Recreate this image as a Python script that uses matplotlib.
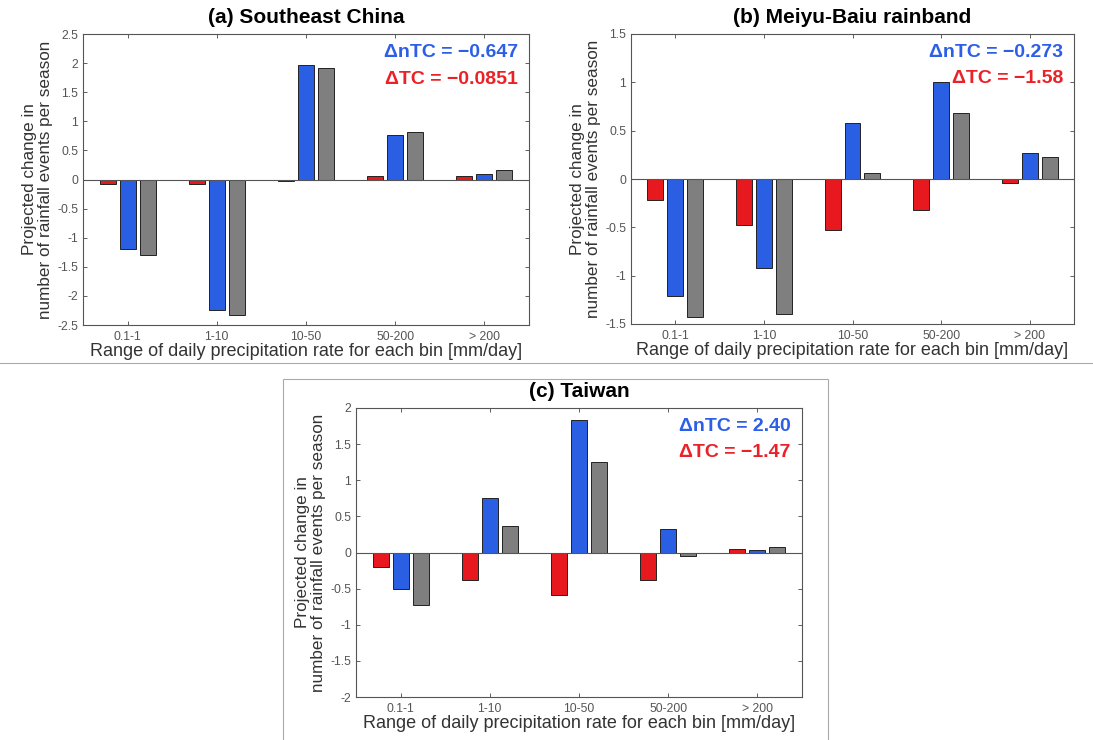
import numpy as np
import matplotlib
matplotlib.use("Agg")
import matplotlib.pyplot as plt
from matplotlib.patches import Rectangle

plt.rcParams['font.family'] = ['Liberation Sans', 'DejaVu Sans']
plt.rcParams['axes.unicode_minus'] = False

bins = ['0.1-1', '1-10', '10-50', '50-200', '> 200']

# (a) Southeast China
sec_tc = [-0.07, -0.07, -0.03, 0.06, 0.06]
sec_ntc = [-1.20, -2.25, 1.96, 0.77, 0.10]
sec_all = [-1.29, -2.32, 1.91, 0.82, 0.16]

# (b) Meiyu-Baiu rainband
mb_tc = [-0.22, -0.48, -0.53, -0.32, -0.045]
mb_ntc = [-1.21, -0.92, 0.58, 1.00, 0.27]
mb_all = [-1.43, -1.40, 0.06, 0.68, 0.23]

# (c) Taiwan
tw_tc = [-0.20, -0.38, -0.59, -0.38, 0.05]
tw_ntc = [-0.51, 0.76, 1.84, 0.33, 0.03]
tw_all = [-0.73, 0.37, 1.25, -0.05, 0.08]

titles = ['(a) Southeast China', '(b) Meiyu-Baiu rainband', '(c) Taiwan']
ntc_text = ['\u0394nTC = \u22120.647', '\u0394nTC = \u22120.273', '\u0394nTC = 2.40']
tc_text = ['\u0394TC = \u22120.0851', '\u0394TC = \u22121.58', '\u0394TC = \u22121.47']
ylims = [(-2.5, 2.5), (-1.5, 1.5), (-2, 2)]
yticks = [np.arange(-2.5, 2.51, 0.5), np.arange(-1.5, 1.51, 0.5), np.arange(-2, 2.01, 0.5)]

RED = '#e8191e'
BLUE = '#2b5fe3'
GRAY = '#7f7f7f'
BLUE_TXT = '#2c5ee8'
RED_TXT = '#ea2228'

W, H = 1093, 740
fig = plt.figure(figsize=(W / 100, H / 100), dpi=100)


def px_axes(x0, y0, x1, y1):
    return fig.add_axes([x0 / W, 1 - y1 / H, (x1 - x0) / W, (y1 - y0) / H])


axes = [px_axes(83, 34, 529, 325), px_axes(631, 34, 1074, 324), px_axes(356, 408, 802, 697)]
data = [(sec_tc, sec_ntc, sec_all), (mb_tc, mb_ntc, mb_all), (tw_tc, tw_ntc, tw_all)]

x = np.arange(1, len(bins) + 1)
off = 0.225
bw = 0.18

for i, ax in enumerate(axes):
    tc, ntc, allv = data[i]
    ax.bar(x - off, tc, bw, color=RED, edgecolor='#222222', linewidth=0.7, zorder=3)
    ax.bar(x, ntc, bw, color=BLUE, edgecolor='#222222', linewidth=0.7, zorder=3)
    ax.bar(x + off, allv, bw, color=GRAY, edgecolor='#222222', linewidth=0.7, zorder=3)
    ax.axhline(0, color='#555555', lw=0.8, zorder=4)
    ax.set_xlim(0.5, 5.5)
    ax.set_ylim(*ylims[i])
    ax.set_xticks(x)
    ax.set_xticklabels(bins)
    ax.set_yticks(yticks[i])
    ax.set_yticklabels(['%g' % v for v in yticks[i]])
    ax.tick_params(direction='in', top=True, right=True, length=3, width=0.6,
                   labelsize=8.8, colors='#444444', labelcolor='#555555')
    ax.tick_params(axis='x', pad=4)
    for s in ax.spines.values():
        s.set_color('#555555')
        s.set_linewidth(0.8)
    ax.set_title(titles[i], fontsize=15, fontweight='bold', pad=8)
    ax.set_xlabel('Range of daily precipitation rate for each bin [mm/day]', fontsize=13, labelpad=0, color='#333333')
    ax.set_ylabel('Projected change in\nnumber of rainfall events per season', fontsize=12.3,
                  labelpad=3, color='#333333', linespacing=1.05)
    ax.text(0.975, 0.935, ntc_text[i], transform=ax.transAxes, ha='right', va='center',
            color=BLUE_TXT, fontsize=14, fontweight='bold')
    ax.text(0.975, 0.845, tc_text[i], transform=ax.transAxes, ha='right', va='center',
            color=RED_TXT, fontsize=14, fontweight='bold')

# separator under the top row and frame around panel (c)
fig.add_artist(plt.Line2D([0, 1], [1 - 363 / H, 1 - 363 / H], color='#aaaaaa', lw=0.8))
fig.add_artist(Rectangle((283 / W, -0.01), (828 - 283) / W, (740 - 379) / H + 0.01,
                         fill=False, edgecolor='#aaaaaa', lw=0.8))

fig.savefig('out.png', dpi=100)
